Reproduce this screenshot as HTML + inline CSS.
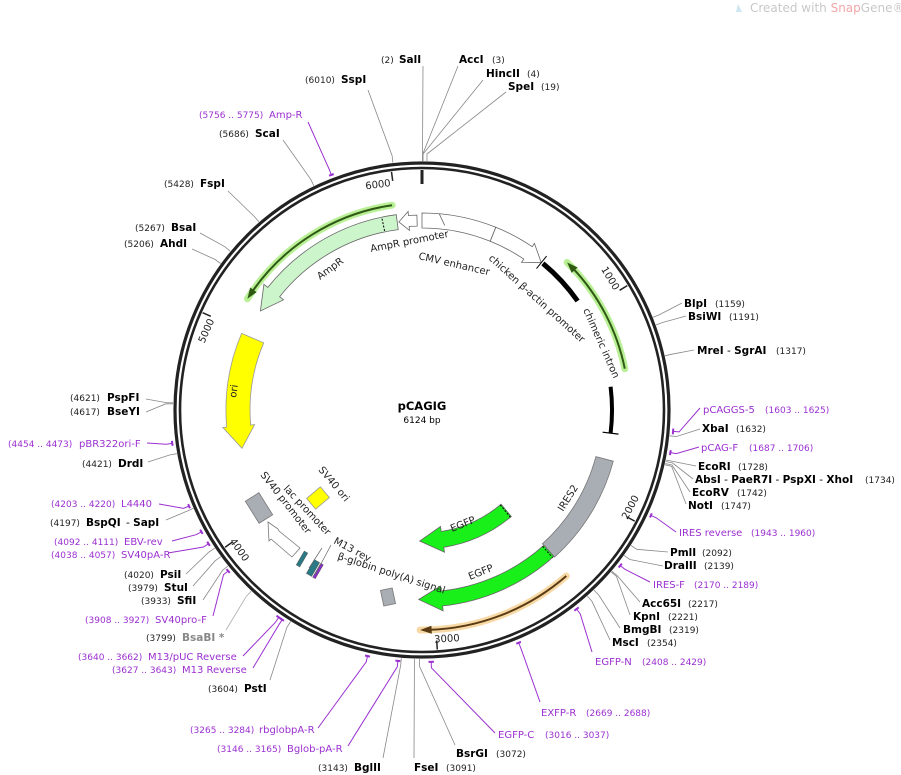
<!DOCTYPE html>
<html><head><meta charset="utf-8"><style>
html,body{margin:0;padding:0;background:#fff;}
svg{display:block;font-family:"DejaVu Sans","Liberation Sans",sans-serif;}
.n{font-size:9px;fill:#222;}
.b{font-size:10.5px;font-weight:bold;fill:#000;}
.p{font-size:10px;fill:#9b30d0;}
.pn{font-size:9px;fill:#9b30d0;}
.f{font-size:10px;fill:#222;}
</style></head><body>
<svg id="s" width="901" height="775" viewBox="0 0 901 775" xmlns="http://www.w3.org/2000/svg">
<g id="g"></g>
<text x="750" y="12" font-size="12" fill="#c8c8c8">Created with <tspan fill="#f0a8a8">Snap</tspan>Gene®</text>
<path d="M738 4 l4 8 h-6z" fill="#cfe6f2"/>
<text x="422" y="410" text-anchor="middle" font-size="11.5" font-weight="bold">pCAGIG</text>
<text x="422" y="423" text-anchor="middle" font-size="9">6124 bp</text>
<text x="381" y="63" class="n">(2)</text><text x="399" y="63" class="b">SalI</text>
<text x="459" y="63" class="b">AccI</text><text x="492" y="63" class="n">(3)</text>
<text x="486" y="77" class="b">HincII</text><text x="527" y="77" class="n">(4)</text>
<text x="508" y="90" class="b">SpeI</text><text x="541" y="90" class="n">(19)</text>
<text x="305" y="83" class="n">(6010)</text><text x="341" y="83" class="b">SspI</text>
<text x="199" y="118" class="pn">(5756 .. 5775)</text><text x="269" y="118" class="p">Amp-R</text>
<text x="219" y="137" class="n">(5686)</text><text x="255" y="137" class="b">ScaI</text>
<text x="164" y="187" class="n">(5428)</text><text x="200" y="187" class="b">FspI</text>
<text x="135" y="231" class="n">(5267)</text><text x="171" y="231" class="b">BsaI</text>
<text x="124" y="247" class="n">(5206)</text><text x="160" y="247" class="b">AhdI</text>
<text x="70" y="401" class="n">(4621)</text><text x="107" y="401" class="b">PspFI</text>
<text x="70" y="415" class="n">(4617)</text><text x="107" y="415" class="b">BseYI</text>
<text x="8" y="447" class="pn">(4454 .. 4473)</text><text x="79" y="447" class="p">pBR322ori-F</text>
<text x="82" y="467" class="n">(4421)</text><text x="118" y="467" class="b">DrdI</text>
<text x="51" y="507" class="pn">(4203 .. 4220)</text><text x="121" y="507" class="p">L4440</text>
<text x="50" y="526" class="n">(4197)</text><text x="86" y="526" class="b">BspQI</text><text x="126" y="526" class="b"><tspan font-weight="normal"> - </tspan>SapI</text>
<text x="54" y="545" class="pn">(4092 .. 4111)</text><text x="124" y="545" class="p">EBV-rev</text>
<text x="51" y="558" class="pn">(4038 .. 4057)</text><text x="121" y="558" class="p">SV40pA-R</text>
<text x="124" y="578" class="n">(4020)</text><text x="160" y="578" class="b">PsiI</text>
<text x="128" y="591" class="n">(3979)</text><text x="164" y="591" class="b">StuI</text>
<text x="141" y="604" class="n">(3933)</text><text x="177" y="604" class="b">SfiI</text>
<text x="85" y="623" class="pn">(3908 .. 3927)</text><text x="155" y="623" class="p">SV40pro-F</text>
<text x="146" y="641" class="n">(3799)</text><text x="182" y="641" class="b" style="fill:#888">BsaBI *</text>
<text x="78" y="660" class="pn">(3640 .. 3662)</text><text x="148" y="660" class="p">M13/pUC Reverse</text>
<text x="112" y="673" class="pn">(3627 .. 3643)</text><text x="182" y="673" class="p">M13 Reverse</text>
<text x="208" y="692" class="n">(3604)</text><text x="244" y="692" class="b">PstI</text>
<text x="190" y="733" class="pn">(3265 .. 3284)</text><text x="259" y="733" class="p">rbglobpA-R</text>
<text x="217" y="752" class="pn">(3146 .. 3165)</text><text x="287" y="752" class="p">Bglob-pA-R</text>
<text x="318" y="771" class="n">(3143)</text><text x="354" y="771" class="b">BglII</text>
<text x="414" y="771" class="b">FseI</text><text x="446" y="771" class="n">(3091)</text>
<text x="456" y="757" class="b">BsrGI</text><text x="496" y="757" class="n">(3072)</text>
<text x="498" y="738" class="p">EGFP-C</text><text x="545" y="738" class="pn">(3016 .. 3037)</text>
<text x="541" y="716" class="p">EXFP-R</text><text x="586" y="716" class="pn">(2669 .. 2688)</text>
<text x="595" y="665" class="p">EGFP-N</text><text x="642" y="665" class="pn">(2408 .. 2429)</text>
<text x="612" y="646" class="b">MscI</text><text x="647" y="646" class="n">(2354)</text>
<text x="623" y="633" class="b">BmgBI</text><text x="669" y="633" class="n">(2319)</text>
<text x="633" y="620" class="b">KpnI</text><text x="668" y="620" class="n">(2221)</text>
<text x="642" y="607" class="b">Acc65I</text><text x="688" y="607" class="n">(2217)</text>
<text x="653" y="588" class="p">IRES-F</text><text x="694" y="588" class="pn">(2170 .. 2189)</text>
<text x="664" y="569" class="b">DraIII</text><text x="704" y="569" class="n">(2139)</text>
<text x="670" y="556" class="b">PmlI</text><text x="702" y="556" class="n">(2092)</text>
<text x="679" y="536" class="p">IRES reverse</text><text x="751" y="536" class="pn">(1943 .. 1960)</text>
<text x="688" y="509" class="b">NotI</text><text x="721" y="509" class="n">(1747)</text>
<text x="692" y="496" class="b">EcoRV</text><text x="737" y="496" class="n">(1742)</text>
<text x="695" y="483" class="b">AbsI<tspan font-weight="normal"> - </tspan>PaeR7I<tspan font-weight="normal"> - </tspan>PspXI<tspan font-weight="normal"> - </tspan>XhoI</text><text x="865" y="483" class="n">(1734)</text>
<text x="698" y="470" class="b">EcoRI</text><text x="738" y="470" class="n">(1728)</text>
<text x="701" y="451" class="p">pCAG-F</text><text x="749" y="451" class="pn">(1687 .. 1706)</text>
<text x="702" y="432" class="b">XbaI</text><text x="736" y="432" class="n">(1632)</text>
<text x="703" y="413" class="p">pCAGGS-5</text><text x="765" y="413" class="pn">(1603 .. 1625)</text>
<text x="697" y="354" class="b">MreI<tspan font-weight="normal"> - </tspan>SgrAI</text><text x="776" y="354" class="n">(1317)</text>
<text x="688" y="320" class="b">BsiWI</text><text x="729" y="320" class="n">(1191)</text>
<text x="684" y="307" class="b">BlpI</text><text x="715" y="307" class="n">(1159)</text>
<text class="f" transform="translate(371,252) rotate(-11)">AmpR promoter</text>
<text class="f" transform="translate(418,259) rotate(13)">CMV enhancer</text>
<text class="f" transform="translate(488,259) rotate(42)">chicken β-actin promoter</text>
<text class="f" transform="translate(320,280) rotate(-36)">AmpR</text>
<text class="f" transform="translate(583,310) rotate(66)">chimeric intron</text>
<text class="f" font-size="9" transform="translate(236,398) rotate(-82)">ori</text>
<text class="f" transform="translate(563,512) rotate(-58)">IRES2</text>
<text class="f" transform="translate(452,532) rotate(-22)">EGFP</text>
<text class="f" transform="translate(470,580) rotate(-22)">EGFP</text>
<text class="f" transform="translate(318,470) rotate(50)">SV40 ori</text>
<text class="f" transform="translate(283,489) rotate(47)">lac promoter</text>
<text class="f" transform="translate(260,475) rotate(52)">SV40 promoter</text>
<text class="f" transform="translate(333,543) rotate(28)">M13 rev</text>
<text class="f" transform="translate(337,559) rotate(18)">β-globin poly(A) signal</text>
</svg>
<script>
var cx=422,cy=410,NS="http://www.w3.org/2000/svg",G=document.getElementById('g');
function Q(r,a){a=a*Math.PI/180;return [cx+r*Math.sin(a),cy-r*Math.cos(a)];}
function P(r,a){var q=Q(r,a);return q[0].toFixed(1)+' '+q[1].toFixed(1);}
function add(tag,at){var e=document.createElementNS(NS,tag);for(var k in at)e.setAttribute(k,at[k]);G.appendChild(e);return e;}
function band(r1,r2,a1,a2){var l=(a2-a1)>180?1:0;return 'M'+P(r2,a1)+' A'+r2+' '+r2+' 0 '+l+' 1 '+P(r2,a2)+' L'+P(r1,a2)+' A'+r1+' '+r1+' 0 '+l+' 0 '+P(r1,a1)+'Z';}
function arrow(r1,r2,a1,a2,h,cw,f){var rm=(r1+r2)/2;if(cw){var b=a2-h;return 'M'+P(r2,a1)+' A'+r2+' '+r2+' 0 0 1 '+P(r2,b)+' L'+P(r2+f,b)+' L'+P(rm,a2)+' L'+P(r1-f,b)+' L'+P(r1,b)+' A'+r1+' '+r1+' 0 0 0 '+P(r1,a1)+'Z';}
var b=a1+h;return 'M'+P(r2,a2)+' A'+r2+' '+r2+' 0 0 0 '+P(r2,b)+' L'+P(r2+f,b)+' L'+P(rm,a1)+' L'+P(r1-f,b)+' L'+P(r1,b)+' A'+r1+' '+r1+' 0 0 1 '+P(r1,a2)+'Z';}
function arc(r,a1,a2){return 'M'+P(r,a1)+' A'+r+' '+r+' 0 0 1 '+P(r,a2);}
function deg(bp){return bp/6124*360;}
var L=[[2,423,66,'#888'],[3,458,66,'#888'],[4,483,80,'#888'],[19,506,92,'#888'],[6010,368,90,'#888'],[5686,283,140,'#888'],[5428,228,191,'#888'],[5267,200,233,'#888'],[5206,192,249,'#888'],
[4621,146,399,'#888'],[4617,146,412,'#888'],[4421,148,462,'#888'],[4197,166,520,'#888'],[4020,186,574,'#888'],[3979,193,586,'#888'],[3933,203,600,'#888'],[3799,226,630,'#aaa'],[3604,270,680,'#888'],
[3143,383,758,'#888'],[3091,414,758,'#888'],[3072,455,745,'#888'],[2354,610,640,'#888'],[2319,620,628,'#888'],[2221,630,615,'#888'],[2217,640,602,'#888'],[2139,663,566,'#888'],[2092,668,552,'#888'],
[1747,686,504,'#888'],[1742,690,492,'#888'],[1734,693,479,'#888'],[1728,696,466,'#888'],[1632,700,429,'#888'],[1317,694,350,'#888'],[1191,686,316,'#888'],[1159,682,303,'#888']];
L.forEach(function(l){var a=deg(l[0]);add('path',{d:'M'+l[1]+' '+l[2]+' L'+P(256,a)+' L'+P(249,a),stroke:l[3],'stroke-width':0.8,fill:'none'});});
var PR=[[5756,5775,308,122],[4454,4473,147,443],[4203,4220,159,504],[4092,4111,172,541],[4038,4057,168,553],[3908,3927,213,616],[3640,3662,243,656],[3627,3643,253,668],[3265,3284,318,728],[3146,3165,348,746],[3016,3037,495,733],[2669,2688,540,702],[2408,2429,592,652],[2170,2189,650,582],[1943,1960,676,532],[1687,1706,699,447],[1603,1625,700,408]];
PR.forEach(function(p){var a1=deg(p[0]),a2=deg(p[1]),m=(a1+a2)/2;add('path',{d:'M'+p[2]+' '+p[3]+' L'+P(258,m)+' L'+P(252,m),stroke:'#9b30d0','stroke-width':1,fill:'none'});add('path',{d:arc(252,a1,a2),stroke:'#9b30d0','stroke-width':2,fill:'none'});});
add('circle',{cx:cx,cy:cy,r:247,fill:'none',stroke:'#222','stroke-width':3.2});
add('circle',{cx:cx,cy:cy,r:242,fill:'none',stroke:'#222','stroke-width':2.6});
add('path',{d:'M'+P(240,0)+' L'+P(226,0),stroke:'#222','stroke-width':3});
[1000,2000,3000,4000,5000,6000].forEach(function(t){var a=deg(t);add('path',{d:'M'+P(240,a)+' L'+P(231,a),stroke:'#222','stroke-width':1.5});
 var e=add('text',{'font-size':10,fill:'#222'});e.textContent=String(t);
 if(a>90&&a<270){var q=Q(233,a+0.6);e.setAttribute('text-anchor','start');e.setAttribute('transform','translate('+q[0].toFixed(1)+','+q[1].toFixed(1)+') rotate('+(a-180).toFixed(1)+')');}
 else{var q=Q(226,a-0.6);e.setAttribute('text-anchor','end');e.setAttribute('transform','translate('+q[0].toFixed(1)+','+q[1].toFixed(1)+') rotate('+(a>180?a-360:a).toFixed(1)+')');}});
function lineArrow(r,a1,a2,cw,col,hl){add('path',{d:arc(r,a1,a2),stroke:hl,'stroke-width':7,fill:'none','stroke-linecap':'round',opacity:0.8});add('path',{d:arc(r,cw?a1:a1+2,cw?a2-2:a2),stroke:col,'stroke-width':2,fill:'none'});
 var t=cw?a2:a1,bb=cw?a2-3:a1+3;add('path',{d:'M'+P(r+4,bb)+' L'+P(r,t)+' L'+P(r-4,bb)+'Z',fill:col});}
lineArrow(207,-57.5,-8.3,false,'#2f5a14','#a8ec7c');
lineArrow(207,44.5,78.5,false,'#2f5a14','#a8ec7c');
lineArrow(220,139,180.5,true,'#5a3a12','#f5cf90');
add('path',{d:arrow(182,197,-58.5,-7.5,7,false,5),fill:'#ccf5cc',stroke:'#666','stroke-width':0.8});
add('path',{d:'M'+P(183,-11.8)+' L'+P(196,-11.8),stroke:'#000','stroke-width':1,'stroke-dasharray':'2 1.5'});
add('path',{d:arrow(184,195,-7,-1.5,3,false,4),fill:'#fff',stroke:'#666','stroke-width':0.8});
add('path',{d:band(182,197,0,22),fill:'#fff',stroke:'#666','stroke-width':0.8});
add('path',{d:arrow(182,197,22,39,5,true,4),fill:'#fff',stroke:'#666','stroke-width':0.8});
add('path',{d:'M'+P(197,5)+' L'+P(186,7),stroke:'#666','stroke-width':0.8});
add('path',{d:'M'+P(182,39)+' L'+P(198,39),stroke:'#000','stroke-width':1});
add('path',{d:arc(190,39.5,55),stroke:'#000','stroke-width':5,fill:'none'});
add('path',{d:arc(190,83,97),stroke:'#000','stroke-width':4,fill:'none'});
add('path',{d:'M'+P(182,97)+' L'+P(198,97),stroke:'#000','stroke-width':1.2});
add('path',{d:arrow(172,196,-102,-67,7,false,4),fill:'#ffff00',stroke:'#999','stroke-width':0.8});
add('path',{d:band(180,198,105,138),fill:'#a9adb4',stroke:'#777','stroke-width':0.8});
add('path',{d:arrow(182,197,138,181,7,true,5),fill:'#19f019',stroke:'#666','stroke-width':0.8});
add('path',{d:'M'+P(182,138.5)+' L'+P(197,138.5),stroke:'#000','stroke-width':1,'stroke-dasharray':'2 1.5'});
add('path',{d:arrow(123,139,140,181,10,true,5),fill:'#19f019',stroke:'#666','stroke-width':0.8});
add('path',{d:'M'+P(123,140.5)+' L'+P(139,140.5),stroke:'#000','stroke-width':1,'stroke-dasharray':'2 1.5'});
add('rect',{x:-9,y:-7,width:18,height:14,fill:'#ffff00',stroke:'#999','stroke-width':0.8,transform:'translate(318,498) rotate(-40)'});
add('rect',{x:-8,y:-13,width:16,height:26,fill:'#a9adb4',stroke:'#777','stroke-width':0.8,transform:'translate(259,508) rotate(-32)'});
add('rect',{x:-6,y:-8,width:12,height:16,fill:'#a9adb4',stroke:'#777','stroke-width':0.8,transform:'translate(388,597) rotate(-12)'});
add('path',{d:'M268 522 L278 529 L279 531 L300 548 L292 557 L271 539 L269 541 Z',fill:'#fff',stroke:'#777','stroke-width':0.8});
add('rect',{x:-2,y:-8,width:4,height:16,fill:'#2a7a85',stroke:'#555','stroke-width':0.5,transform:'translate(302,559) rotate(30)'});
add('rect',{x:-3,y:-8,width:6,height:16,fill:'#2a7a85',stroke:'#555','stroke-width':0.5,transform:'translate(313,568) rotate(30)'});
add('rect',{x:-1.5,y:-8,width:3,height:16,fill:'#8a2ad0',stroke:'#555','stroke-width':0.5,transform:'translate(318,571) rotate(30)'});
add('path',{d:'M322 548 L309 568 M331 545 L315 575',stroke:'#666','stroke-width':0.7});
</script>
</body></html>
